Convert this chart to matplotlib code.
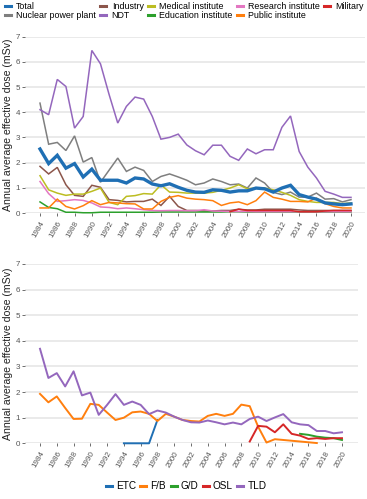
import matplotlib
matplotlib.use("Agg")
import matplotlib.pyplot as plt
from matplotlib.lines import Line2D

plt.rcParams['font.family'] = ['Liberation Sans', 'DejaVu Sans']

years = list(range(1984, 2021))

total = [2.54, 1.96, 2.29, 1.78, 1.96, 1.43, 1.74, 1.30, 1.30, 1.30, 1.19, 1.39, 1.35, 1.15, 1.08, 1.16, 1.02, 0.90,
         0.83, 0.82, 0.92, 0.90, 0.83, 0.88, 0.88, 0.99, 0.96, 0.83, 0.99, 1.10, 0.73, 0.63, 0.55, 0.40, 0.36, 0.33, 0.36]
npp = [4.36, 2.73, 2.80, 2.48, 3.06, 2.02, 2.20, 1.22, 1.70, 2.18, 1.65, 1.82, 1.69, 1.25, 1.45, 1.55, 1.43, 1.30,
       1.12, 1.19, 1.35, 1.25, 1.12, 1.15, 0.99, 1.39, 1.19, 0.82, 0.73, 0.83, 0.63, 0.63, 0.79, 0.55, 0.57, 0.44, 0.53]
industry = [1.85, 1.55, 1.81, 1.12, 0.70, 0.66, 1.10, 1.02, 0.53, 0.50, 0.44, 0.46, 0.46, 0.55, 0.30, 0.66, 0.26, 0.10,
            0.10, 0.08, 0.08, 0.10, 0.10, 0.15, 0.12, 0.12, 0.15, 0.15, 0.15, 0.15, 0.12, 0.10, 0.10, 0.10, 0.10, 0.10, 0.10]
ndt = [4.10, 3.90, 5.30, 5.02, 3.37, 3.83, 6.45, 5.92, 4.70, 3.57, 4.23, 4.60, 4.52, 3.83, 2.93, 3.00, 3.13, 2.70,
       2.47, 2.31, 2.69, 2.69, 2.25, 2.09, 2.54, 2.35, 2.51, 2.51, 3.40, 3.85, 2.44, 1.82, 1.39, 0.86, 0.75, 0.62, 0.62]
medical = [1.48, 0.92, 0.79, 0.70, 0.75, 0.75, 0.86, 0.99, 0.42, 0.33, 0.66, 0.69, 0.77, 0.75, 1.12, 0.83, 0.82, 0.79,
           0.79, 0.79, 0.82, 0.90, 0.99, 1.12, 0.96, 0.99, 0.99, 0.92, 0.82, 0.70, 0.53, 0.46, 0.42, 0.42, 0.42, 0.37, 0.40]
education = [0.44, 0.22, 0.17, 0.03, 0.03, 0.01, 0.01, 0.03, 0.03, 0.03, 0.03, 0.03, 0.03, 0.03, 0.04, 0.04, 0.04, 0.04,
             0.04, 0.04, 0.04, 0.04, 0.05, 0.05, 0.04, 0.04, 0.04, 0.04, 0.04, 0.04, 0.04, 0.04, 0.04, 0.04, 0.04, 0.04, 0.04]
research = [1.25, 0.77, 0.46, 0.49, 0.53, 0.50, 0.40, 0.24, 0.22, 0.17, 0.20, 0.17, 0.13, 0.10, 0.09, 0.10, 0.10, 0.09,
            0.09, 0.13, 0.08, 0.07, 0.06, 0.06, 0.06, 0.05, 0.05, 0.05, 0.05, 0.05, 0.05, 0.05, 0.05, 0.05, 0.05, 0.05, 0.05]
public = [0.20, 0.20, 0.55, 0.26, 0.16, 0.29, 0.49, 0.33, 0.42, 0.40, 0.37, 0.36, 0.16, 0.16, 0.46, 0.62, 0.69, 0.59,
          0.55, 0.53, 0.49, 0.30, 0.40, 0.44, 0.33, 0.49, 0.83, 0.62, 0.55, 0.46, 0.46, 0.44, 0.59, 0.37, 0.26, 0.20, 0.20]
military_years = list(range(2006, 2021))
military = [0.05, 0.15, 0.10, 0.10, 0.10, 0.10, 0.10, 0.10, 0.05, 0.05, 0.05, 0.08, 0.10, 0.10, 0.10]

etc_years = [1994, 1995, 1996, 1997, 1998]
etc = [0.0, 0.0, 0.0, 0.0, 0.91]
fb_years = list(range(1984, 2018))
fb = [1.93, 1.60, 1.83, 1.38, 0.95, 0.96, 1.54, 1.50, 1.20, 0.91, 1.00, 1.21, 1.24, 1.15, 0.87, 1.15, 1.04, 0.91,
      0.87, 0.85, 1.07, 1.15, 1.07, 1.15, 1.51, 1.45, 0.65, 0.03, 0.16, 0.13, 0.10, 0.07, 0.04, 0.01]
gd_years = list(range(2015, 2021))
gd = [0.37, 0.33, 0.26, 0.22, 0.20, 0.13]
osl_years = list(range(2009, 2021))
osl = [0.07, 0.68, 0.65, 0.43, 0.74, 0.37, 0.30, 0.17, 0.20, 0.17, 0.20, 0.20]
tld = [3.69, 2.55, 2.74, 2.22, 2.81, 1.87, 1.98, 1.11, 1.50, 1.92, 1.50, 1.63, 1.50, 1.14, 1.28, 1.20, 1.04, 0.91,
       0.82, 0.81, 0.89, 0.82, 0.74, 0.81, 0.74, 0.95, 1.04, 0.87, 1.01, 1.14, 0.82, 0.74, 0.71, 0.48, 0.48, 0.39, 0.43]

xticks = list(range(1984, 2021, 2))
yticks = list(range(0, 8))

C = {'blue': '#1f6fb4', 'orange': '#ff7f0e', 'green': '#2ca02c', 'red': '#d62728',
     'purple': '#9467bd', 'brown': '#8c564b', 'pink': '#e377c2', 'gray': '#7f7f7f', 'olive': '#bcbd22'}

fig = plt.figure(figsize=(3.67, 4.99), dpi=100)
W, H = 367, 499

def style(ax):
    for s in ax.spines.values():
        s.set_visible(False)
    ax.set_ylim(0, 7)
    ax.set_yticks(yticks)
    ax.set_xticks(xticks)
    ax.set_xticklabels([str(y) for y in xticks], rotation=60, ha='right', rotation_mode='anchor')
    ax.tick_params(axis='both', labelsize=5.8, colors='#555555', length=2, width=0.6, pad=1.5)
    ax.tick_params(axis='x', pad=3)
    ax.grid(axis='y', color='#e6e6e6', linewidth=1.2)
    ax.set_axisbelow(True)
    ax.set_ylabel('Annual average effective dose (mSv)', fontsize=7.6, labelpad=2, color='#222222')

# top axes
ax1 = fig.add_axes([25 / W, (H - 213) / H, (365 - 25) / W, (213 - 36.6) / H])
style(ax1)
ax1.set_xlim(1984 - 15 / 8.64, 2020 + 14 / 8.64)
lw = 1.1
series_top = [
    ('Total', years, total, C['blue'], 2.4),
    ('Nuclear power plant', years, npp, C['gray'], lw),
    ('Industry', years, industry, C['brown'], lw),
    ('NDT', years, ndt, C['purple'], lw),
    ('Medical institute', years, medical, C['olive'], lw),
    ('Education institute', years, education, C['green'], lw),
    ('Research institute', years, research, C['pink'], lw),
    ('Public institute', years, public, C['orange'], lw),
    ('Military', military_years, military, C['red'], lw),
]
order_draw = ['Nuclear power plant', 'Industry', 'NDT', 'Medical institute', 'Education institute',
              'Research institute', 'Public institute', 'Military', 'Total']
lookup = {s[0]: s for s in series_top}
for name in order_draw:
    n, x, y, c, w = lookup[name]
    ax1.plot(x, y, color=c, linewidth=w, label=n, clip_on=False, solid_joinstyle='miter')
leg_order = [s[0] for s in series_top]
leg_handles = [Line2D([], [], color=lookup[n][3], linewidth=2.2) for n in leg_order]
fig.legend(leg_handles, leg_order, loc='upper left', bbox_to_anchor=(0.008, 1.0), ncol=5,
           frameon=False, fontsize=6.4, handlelength=0.7, handletextpad=0.6, columnspacing=0.45,
           labelspacing=0.05, borderaxespad=0.1, borderpad=0.1)

# bottom axes
ax2 = fig.add_axes([25 / W, (H - 443.3) / H, (358 - 25) / W, (443.3 - 264) / H])
style(ax2)
ax2.set_xlim(1984 - 15 / 8.39, 2020 + 16 / 8.39)
series_bot = [
    ('ETC', etc_years, etc, C['blue']),
    ('F/B', fb_years, fb, C['orange']),
    ('G/D', gd_years, gd, C['green']),
    ('OSL', osl_years, osl, C['red']),
    ('TLD', years, tld, C['purple']),
]
for n, x, y, c in series_bot:
    ax2.plot(x, y, color=c, linewidth=1.4, clip_on=False)
bh = [Line2D([], [], color=c, linewidth=2.2) for _, _, _, c in series_bot]
fig.legend(bh, [s[0] for s in series_bot], loc='center', bbox_to_anchor=(186 / W, (H - 486) / H), ncol=5,
           frameon=False, fontsize=7.2, handlelength=0.6, handletextpad=0.4, columnspacing=0.45)

fig.savefig('out.png', dpi=100)
